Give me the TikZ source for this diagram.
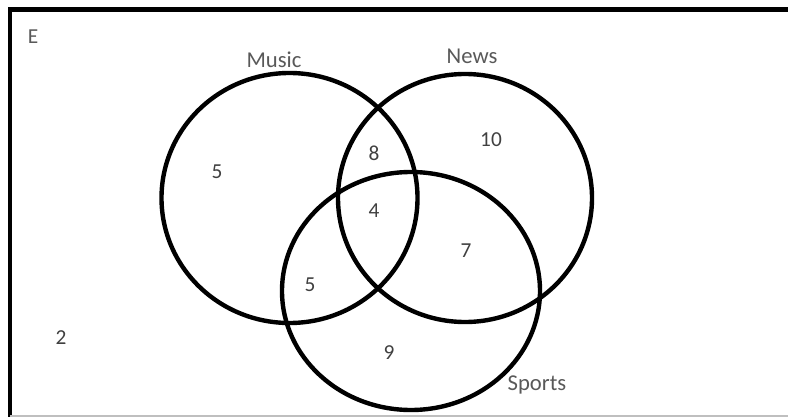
\documentclass[tikz,border=0pt]{standalone}
\usepackage{fontspec}
\setmainfont{Carlito}
\usepackage{tikz}
\usetikzlibrary{positioning}
\tikzset{
  setline/.style={line width=3.3pt},
  frame/.style={line width=3.6pt},
  lbl/.style={inner sep=0pt,text=black!65,font=\fontsize{17}{20}\selectfont},
  num/.style={inner sep=0pt,text=black!75,font=\fontsize{16}{19}\selectfont},
}

\begin{document}
\begin{tikzpicture}[x=0.75pt,y=-0.75pt]
  \useasboundingbox (0,0) rectangle (788,417);
  % universal set
  \draw[frame] (10,420) -- (10,9.5) -- (800,9.5);
  \draw[black!25,line width=1pt] (10,416) -- (788,416);
  \node[num,text=black!65] (univ) at (33,37) {E};
  % the three sets
  \draw[setline] (289.5,198) ellipse [x radius=128, y radius=125];
  \draw[setline] (465,198) ellipse [x radius=127, y radius=124];
  \draw[setline] (411,291) ellipse [x radius=129, y radius=119];
  \node[lbl] (music)  at (274,60)  {Music};
  \node[lbl] (news)   at (472,56)  {News};
  \node[lbl] (sports) at (537,385) {Sports};
  % counts
  \node[num] (monly) at (217,172) {5};
  \node[num] (mn)    at (374,153) {8};
  \node[num] (nonly) at (491,140) {10};
  \node[num] (mns)   at (374,211) {4};
  \node[num] (ns)    at (466,251) {7};
  \node[num] (ms)    at (310,285) {5};
  \node[num] (sonly) at (389,353) {9};
  \node[num] (none)  at (61,338)  {2};
\end{tikzpicture}
\end{document}
